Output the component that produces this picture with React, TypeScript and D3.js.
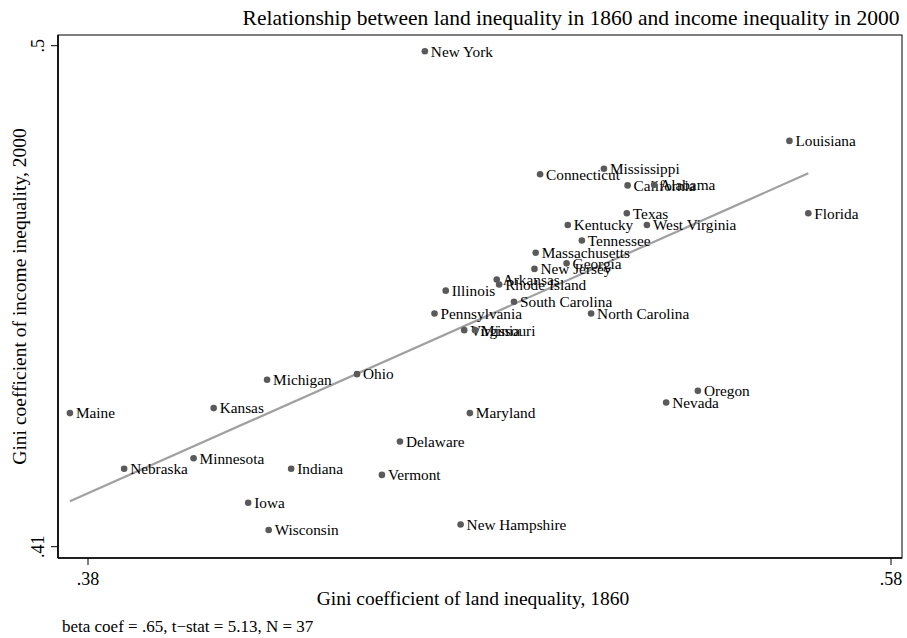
import React from 'react';
import * as d3 from 'd3';

const states = [
  'New York', 'Louisiana', 'Mississippi', 'Connecticut', 'California', 'Alabama',
  'Texas', 'Kentucky', 'West Virginia', 'Florida', 'Tennessee', 'Massachusetts',
  'Georgia', 'New Jersey', 'Arkansas', 'Rhode Island', 'Illinois', 'South Carolina',
  'Pennsylvania', 'North Carolina', 'Virginia', 'Missouri', 'Michigan', 'Ohio',
  'Oregon', 'Nevada', 'Maine', 'Kansas', 'Maryland', 'Delaware', 'Minnesota',
  'Nebraska', 'Indiana', 'Vermont', 'Iowa', 'Wisconsin', 'New Hampshire',
];

// land Gini 1860
const landGini = [
  0.4639, 0.5547, 0.5085, 0.4926, 0.5144, 0.5210,
  0.5142, 0.4995, 0.5192, 0.5594, 0.5030, 0.4915,
  0.4992, 0.4912, 0.4818, 0.4824, 0.4691, 0.4861,
  0.4663, 0.5053, 0.4737, 0.4764, 0.4246, 0.4470,
  0.5319, 0.5240, 0.3755, 0.4113, 0.4751, 0.4577, 0.4063,
  0.3890, 0.4306, 0.4532, 0.4199, 0.4250, 0.4728,
];

// income Gini 2000
const incomeGini = [
  0.4990, 0.4829, 0.4779, 0.4769, 0.4749, 0.4750,
  0.4699, 0.4678, 0.4678, 0.4699, 0.4650, 0.4628,
  0.4609, 0.4599, 0.4580, 0.4571, 0.4560, 0.4540,
  0.4519, 0.4519, 0.4489, 0.4489, 0.4400, 0.4410,
  0.4380, 0.4359, 0.4340, 0.4349, 0.4340, 0.4289, 0.4259,
  0.4240, 0.4240, 0.4229, 0.4179, 0.4130, 0.4140,
];

const xTicks = [0.38, 0.58];
const yTicks = [0.41, 0.5];
const fitSlope = 0.3203;
const fitIntercept = 0.2979;

const title = 'Relationship between land inequality in 1860 and income inequality in 2000';
const xTitle = 'Gini coefficient of land inequality, 1860';
const yTitle = 'Gini coefficient of income inequality, 2000';
const note = 'beta coef = .65, t\u2212stat = 5.13, N = 37';

const W = 907;
const H = 638;
const frame = { left: 58, right: 902, top: 35, bottom: 558 };
const font = '"Liberation Serif", "Times New Roman", serif';

const fmt = (v: number) => d3.format('.2f')(v).replace(/^0/, '').replace(/0$/, '');

const App: React.FC = () => {
  const x = d3.scaleLinear().domain([0.38, 0.58]).range([88, 891]);
  const y = d3.scaleLinear().domain([0.41, 0.5]).range([546.7, 45.7]);

  const points = states.map((s, i) => ({ name: s, lx: landGini[i], iy: incomeGini[i] }));
  const [xmin, xmax] = d3.extent(landGini) as [number, number];
  const fitPath = d3.line<number>()
    .x(d => x(d))
    .y(d => y(fitIntercept + fitSlope * d))([xmin, xmax]) || '';

  const cy = (frame.top + frame.bottom) / 2;

  return (
    <svg width={W} height={H} style={{ position: 'absolute', left: 0, top: 0, background: '#fff' }}
      fontFamily={font}>
      <rect x={0} y={0} width={W} height={H} fill="#fff" />
      <text x={571} y={25} fontSize={21.5} textAnchor="middle">{title}</text>

      {/* plot frame */}
      <rect x={frame.left} y={frame.top} width={frame.right - frame.left} height={frame.bottom - frame.top}
        fill="none" stroke="#000" strokeWidth={1} />
      <line x1={frame.left} x2={frame.left} y1={frame.top} y2={frame.bottom} stroke="#000" strokeWidth={1.6} />
      <line x1={frame.left} x2={frame.right} y1={frame.bottom} y2={frame.bottom} stroke="#000" strokeWidth={1.6} />

      {/* fit line */}
      <path d={fitPath} fill="none" stroke="#a0a0a0" strokeWidth={2.2} />

      {/* points */}
      {points.map(p => (
        <g key={p.name}>
          <circle cx={x(p.lx)} cy={y(p.iy)} r={3.3} fill="#5a5a5a" />
          <text x={x(p.lx) + 6} y={y(p.iy)} dy="0.35em" fontSize={15.3}>{p.name}</text>
        </g>
      ))}

      {/* x axis */}
      {xTicks.map(t => (
        <g key={t}>
          <line x1={x(t)} x2={x(t)} y1={frame.bottom} y2={frame.bottom + 7} stroke="#000" />
          <text x={x(t)} y={frame.bottom + 27} fontSize={18} textAnchor="middle">{fmt(t)}</text>
        </g>
      ))}
      <text x={473} y={605} fontSize={19.5} textAnchor="middle">{xTitle}</text>

      {/* y axis */}
      {yTicks.map(t => (
        <g key={t}>
          <line x1={frame.left - 7} x2={frame.left} y1={y(t)} y2={y(t)} stroke="#000" />
          <text transform={`translate(${frame.left - 14},${y(t)}) rotate(-90)`} fontSize={18}
            textAnchor="middle">{fmt(t)}</text>
        </g>
      ))}
      <text transform={`translate(26,${cy}) rotate(-90)`} fontSize={19.5} textAnchor="middle">{yTitle}</text>

      <text x={62} y={632} fontSize={17}>{note}</text>
    </svg>
  );
};

export default App;
